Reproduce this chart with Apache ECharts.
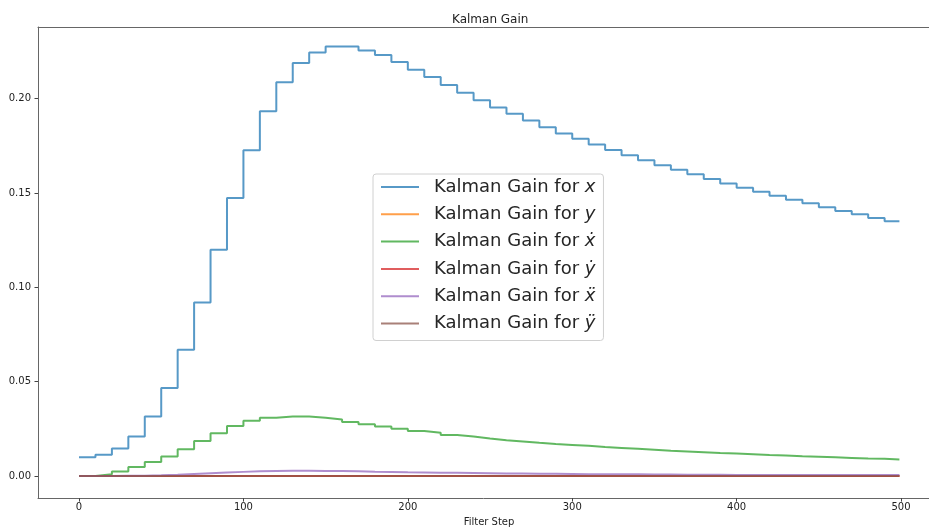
<!DOCTYPE html>
<html>
<head>
<meta charset="utf-8">
<script src="https://cdn.jsdelivr.net/npm/echarts@6/dist/echarts.min.js"></script>
<style>html,body{margin:0;padding:0;background:#fff}#c{width:929px;height:532px}</style>
</head>
<body>
<div id="c"></div>
<script>
// Filter steps at which each gain value block begins (gain held for 10 steps)
const blockStarts = [0,10,20,30,40,50,60,70,80,90,100,110,120,130,140,150,160,170,180,190,200,210,220,230,240,250,260,270,280,290,300,310,320,330,340,350,360,370,380,390,400,410,420,430,440,450,460,470,480,490];
const lastStep = 499;

const gainX = [0.0099,0.0113,0.0146,0.0209,0.0315,0.0467,0.0669,0.0920,0.1200,0.1474,0.1727,0.1934,0.2087,0.2189,0.2245,0.2276,0.2276,0.2255,0.2231,0.2194,0.2153,0.2115,0.2073,0.2031,0.1992,0.1953,0.1920,0.1885,0.1849,0.1816,0.1788,0.1757,0.1728,0.1700,0.1674,0.1647,0.1623,0.1599,0.1574,0.1551,0.1528,0.1507,0.1486,0.1465,0.1446,0.1425,0.1405,0.1388,0.1368,0.1351];
const gainY = [0,0,0,0,0,0,0,0,0,0,0,0,0,0,0,0,0,0,0,0,0,0,0,0,0,0,0,0,0,0,0,0,0,0,0,0,0,0,0,0,0,0,0,0,0,0,0,0,0,0];
const gainXd = [0.0000,0.0009,0.0024,0.0048,0.0075,0.0104,0.0142,0.0185,0.0227,0.0265,0.0293,0.0309,0.0316,0.0316,0.0309,0.0299,0.0287,0.0274,0.0262,0.0251,0.0239,0.0229,0.0218,0.0209,0.0199,0.0190,0.0183,0.0176,0.0170,0.0165,0.0160,0.0154,0.0149,0.0144,0.0139,0.0134,0.0130,0.0126,0.0122,0.0119,0.0116,0.0112,0.0109,0.0105,0.0102,0.0099,0.0096,0.0093,0.0091,0.0088];
const gainYd = [0,0,0,0,0,0,0,0,0,0,0,0,0,0,0,0,0,0,0,0,0,0,0,0,0,0,0,0,0,0,0,0,0,0,0,0,0,0,0,0,0,0,0,0,0,0,0,0,0,0];
const gainXdd = [0.0000,0.0000,0.0001,0.0002,0.0004,0.0007,0.0011,0.0015,0.0019,0.0022,0.0025,0.0027,0.0028,0.0028,0.0027,0.0026,0.0025,0.0023,0.0022,0.0020,0.0019,0.0018,0.0017,0.0016,0.0015,0.0014,0.0013,0.0012,0.0012,0.0011,0.0010,0.0010,0.0009,0.0009,0.0008,0.0008,0.0007,0.0007,0.0007,0.0006,0.0006,0.0006,0.0006,0.0006,0.0005,0.0005,0.0005,0.0005,0.0005,0.0005];
const gainYdd = [0,0,0,0,0,0,0,0,0,0,0,0,0,0,0,0,0,0,0,0,0,0,0,0,0,0,0,0,0,0,0,0,0,0,0,0,0,0,0,0,0,0,0,0,0,0,0,0,0,0];

const seriesNames = ['Kalman Gain for x','Kalman Gain for y','Kalman Gain for \u1E8B','Kalman Gain for \u1E8F','Kalman Gain for \u1E8D','Kalman Gain for \u00FF'];
const seriesValues = [gainX, gainY, gainXd, gainYd, gainXdd, gainYdd];
const colors = ['#1f77b4','#ff7f0e','#2ca02c','#d62728','#9467bd','#8c564b'];

const xTicks = [0,100,200,300,400,500];
const yTicks = [0,0.05,0.10,0.15,0.20];

function toData(vals){
  const d = blockStarts.map((s,i)=>[s, vals[i]]);
  d.push([lastStep, vals[vals.length-1]]);
  return d;
}

const font = 'DejaVu Sans';
const chart = echarts.init(document.getElementById('c'));
chart.setOption({
  animation: false,
  backgroundColor: '#fff',
  title: {
    text: 'Kalman Gain', left: 447, top: 9,
    textStyle: {fontFamily: font, fontSize: 12, fontWeight: 'normal', color: '#222'}
  },
  grid: {left: 38, right: 0, top: 27, bottom: 31},
  xAxis: [{
    type: 'value', min: -24.95, max: 517,
    name: 'Filter Step', nameLocation: 'middle', nameGap: 18,
    nameTextStyle: {fontFamily: font, fontSize: 10, color: '#222', padding: [0, 0, 0, 11]},
    splitLine: {show: false},
    axisLine: {show: true, onZero: false, lineStyle: {color: '#666', width: 1}},
    axisTick: {show: true, length: 3.5, customValues: xTicks, lineStyle: {color: '#444'}},
    axisLabel: {customValues: xTicks, fontFamily: font, fontSize: 10, color: '#222', margin: 4}
  }, {
    type: 'value', position: 'top', min: -24.95, max: 517,
    splitLine: {show: false}, axisTick: {show: false}, axisLabel: {show: false},
    axisLine: {show: true, onZero: false, lineStyle: {color: '#666', width: 1}}
  }],
  yAxis: {
    type: 'value', min: -0.0117, max: 0.2380,
    splitLine: {show: false},
    axisLine: {show: true, onZero: false, lineStyle: {color: '#666', width: 1}},
    axisTick: {show: true, length: 3.5, customValues: yTicks, lineStyle: {color: '#444'}},
    axisLabel: {customValues: yTicks, fontFamily: font, fontSize: 10, color: '#222', margin: 7,
      formatter: v => v.toFixed(2)}
  },
  legend: {
    orient: 'vertical', left: 373, top: 174,
    padding: [4, 8, 8, 7],
    itemWidth: 38, itemHeight: 20, itemGap: 9.3,
    backgroundColor: 'rgba(255,255,255,0.8)', borderColor: '#d0d0d0', borderWidth: 1, borderRadius: 3,
    itemStyle: {opacity: 0},
    lineStyle: {width: 2},
    data: seriesNames,
    formatter: name => '{a|' + name.slice(0, -1) + '}{b|' + name.slice(-1) + '}',
    textStyle: {
      padding: [0, 0, 0, 10],
      rich: {
        a: {fontFamily: font, fontSize: 18, color: '#262626'},
        b: {fontFamily: font, fontSize: 18, fontStyle: 'italic', color: '#262626'}
      }
    }
  },
  series: seriesNames.map((n, i) => ({
    name: n, type: 'line', step: 'end', symbol: 'none', showSymbol: false,
    xAxisIndex: 0,
    data: toData(seriesValues[i]),
    color: colors[i],
    lineStyle: {color: colors[i], width: 2, opacity: 0.75}
  }))
});
</script>
</body>
</html>
